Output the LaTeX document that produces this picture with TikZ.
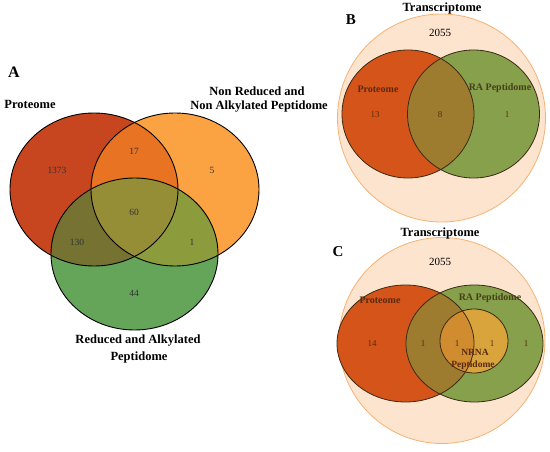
\documentclass[tikz,border=0pt]{standalone}
\usepackage{fontspec}
\setmainfont{Liberation Serif}
\definecolor{pA}{HTML}{C8461F}
\definecolor{nA}{HTML}{FBA343}
\definecolor{gA}{HTML}{64A55A}
\definecolor{pnA}{HTML}{E87323}
\definecolor{pgA}{HTML}{767332}
\definecolor{ngA}{HTML}{8C9B3C}
\definecolor{allA}{HTML}{968E37}
\definecolor{tB}{HTML}{FDE4CF}
\definecolor{tBd}{HTML}{F6B273}
\definecolor{pB}{HTML}{D55419}
\definecolor{rB}{HTML}{87A04B}
\definecolor{prB}{HTML}{9D7C30}
\definecolor{nC}{HTML}{D9A43C}
\definecolor{pnC}{HTML}{D08C2E}
\definecolor{edgeB}{HTML}{3A2A15}
\definecolor{txtP}{HTML}{5A2A10}
\definecolor{txtR}{HTML}{45401A}
\tikzset{
  venn/.style={draw=black, line width=0.9pt},
  vennB/.style={draw=edgeB, line width=0.8pt},
  lab/.style={font=\fontsize{12.5}{14}\selectfont\bfseries, inner sep=0pt},
  labs/.style={font=\fontsize{10}{11}\selectfont\bfseries, inner sep=0pt},
  num/.style={font=\fontsize{9.5}{11}\selectfont, inner sep=0pt, text=black!80},
  numB/.style={font=\fontsize{9}{10}\selectfont, inner sep=0pt, text=txtP},
  panel/.style={font=\fontsize{16}{18}\selectfont\bfseries, inner sep=0pt},
}
\begin{document}
\begin{tikzpicture}[x=1pt,y=-1pt]
\useasboundingbox (0,0) rectangle (550,452);
% ---------- Panel A ----------
\def\PA{(94,189.5) ellipse [x radius=84pt, y radius=76.5pt]}
\def\NA{(175,189.5) ellipse [x radius=84pt, y radius=76.5pt]}
\def\GA{(134.5,254) ellipse [x radius=83.5pt, y radius=76pt]}
\fill[pA] \PA;
\fill[nA] \NA;
\fill[gA] \GA;
\begin{scope}\clip \PA; \fill[pnA] \NA; \fill[pgA] \GA; \end{scope}
\begin{scope}\clip \NA; \fill[ngA] \GA; \end{scope}
\begin{scope}\clip \PA; \clip \NA; \fill[allA] \GA; \end{scope}
\draw[venn] \PA;
\draw[venn] \NA;
\draw[venn] \GA;
\node[panel] (A) at (14,72) {A};
\node[lab] (pLab) at (30,104) {Proteome};
\node[lab] (nLab1) at (257,91) {Non Reduced and};
\node[lab] (nLab2) at (259,107) {Non Alkylated Peptidome};
\node[lab] (gLab1) at (138,341) {Reduced and Alkylated};
\node[lab] (gLab2) at (139,357) {Peptidome};
\node[num] (a1) at (57,170) {1373};
\node[num] (a2) at (134,151) {17};
\node[num] (a3) at (212,170) {5};
\node[num] (a4) at (134,212) {60};
\node[num] (a5) at (77,242) {130};
\node[num] (a6) at (192,242) {1};
\node[num] (a7) at (134,293) {44};
% ---------- Panel B ----------
\def\PB{(408,114) ellipse [x radius=66pt, y radius=64pt]}
\def\RB{(473.5,114) ellipse [x radius=66pt, y radius=64pt]}
\fill[tB] (441.5,118) circle [radius=104pt];
\draw[tBd, line width=0.8pt] (441.5,118) circle [radius=104pt];
\fill[pB] \PB;
\fill[rB] \RB;
\begin{scope}\clip \PB; \fill[prB] \RB; \end{scope}
\draw[vennB] \PB;
\draw[vennB] \RB;
\node[lab] (tB1) at (442,8) {Transcriptome};
\node[panel, font=\fontsize{15}{17}\selectfont\bfseries] (B) at (351,20) {B};
\node[font=\fontsize{11}{12}\selectfont, inner sep=0pt] (b0) at (440,33) {2055};
\node[labs, text=txtP] (pB1) at (378,89) {Proteome};
\node[labs, text=txtR] (rB1) at (500,88) {RA Peptidome};
\node[numB] (b1) at (375,115) {13};
\node[numB] (b2) at (440,115) {8};
\node[numB] (b3) at (507,115) {1};
% ---------- Panel C ----------
\def\PC{(405.5,343.5) ellipse [x radius=68.5pt, y radius=58.5pt]}
\def\RC{(474.5,343.5) ellipse [x radius=68.5pt, y radius=58.5pt]}
\def\NC{(474,341) ellipse [x radius=34pt, y radius=32pt]}
\fill[tB] (442,340.5) circle [radius=103pt];
\draw[tBd, line width=0.8pt] (442,340.5) circle [radius=103pt];
\fill[pB] \PC;
\fill[rB] \RC;
\begin{scope}\clip \PC; \fill[prB] \RC; \end{scope}
\fill[nC] \NC;
\begin{scope}\clip \PC; \fill[pnC] \NC; \end{scope}
\draw[vennB] \PC;
\draw[vennB] \RC;
\draw[vennB] \NC;
\node[lab] (tC1) at (440,233) {Transcriptome};
\node[panel, font=\fontsize{15}{17}\selectfont\bfseries] (C) at (338,252) {C};
\node[font=\fontsize{11}{12}\selectfont, inner sep=0pt] (c0) at (440,262) {2055};
\node[labs, text=txtP] (pC1) at (380,300) {Proteome};
\node[labs, text=txtR] (rC1) at (490,298) {RA Peptidome};
\node[labs, text=txtP, font=\fontsize{9.5}{11}\selectfont\bfseries] (nC1) at (475,352) {NRNA};
\node[labs, text=txtP, font=\fontsize{9.5}{11}\selectfont\bfseries] (nC2) at (473,365) {Peptidome};
\node[numB] (c1) at (372,344) {14};
\node[numB] (c2) at (423,344) {1};
\node[numB] (c3) at (457,344) {1};
\node[numB] (c4) at (492,344) {1};
\node[numB] (c5) at (526,344) {1};
\end{tikzpicture}
\end{document}
